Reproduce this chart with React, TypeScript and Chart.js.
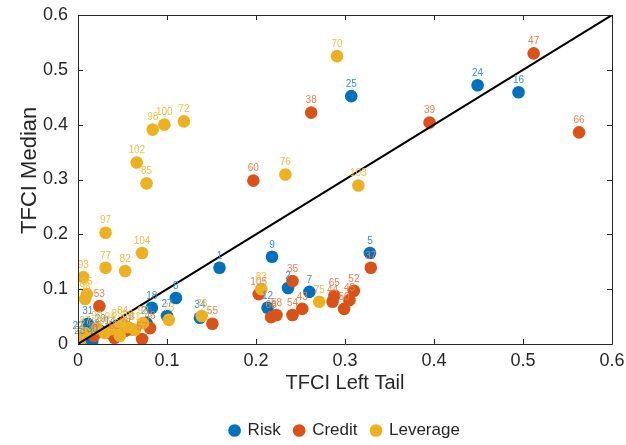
import React, { useEffect, useRef } from "react";
import { Chart, registerables } from "chart.js";

Chart.register(...registerables);

// Risk series
const riskLabels = ["1","2","3","5","7","8","9","12","14","16","18","22","23","24","25","26","27","29","30","31","34"];
const riskX = [0.159,0.236,0.060,0.328,0.260,0.110,0.218,0.213,0.036,0.495,0.083,0.000,0.002,0.449,0.307,0.077,0.100,0.025,0.016,0.011,0.137];
const riskY = [0.139,0.102,0.027,0.166,0.095,0.084,0.159,0.066,0.020,0.459,0.066,0.011,0.002,0.472,0.452,0.038,0.051,0.024,0.005,0.037,0.048];

// Credit series
const creditLabels = ["35","37","38","39","43","44","45","46","47","49","50","52","53","54","55","57","58","60","62","63","65","66","68","105"];
const creditX = [0.241,0.329,0.262,0.395,0.252,0.286,0.305,0.081,0.512,0.053,0.299,0.310,0.024,0.241,0.151,0.072,0.223,0.197,0.041,0.018,0.288,0.563,0.217,0.203];
const creditY = [0.115,0.139,0.422,0.404,0.064,0.077,0.080,0.029,0.530,0.024,0.064,0.097,0.069,0.053,0.037,0.009,0.053,0.298,0.011,0.015,0.088,0.386,0.049,0.091];

// Leverage series
const levLabels = ["70","72","73","75","76","77","78","81","82","83","84","85","86","87","88","89","90","91","92","93","94","95","96","97","98","99","100","102","103","104"];
const levX = [0.291,0.119,0.102,0.271,0.233,0.031,0.139,0.064,0.053,0.206,0.050,0.077,0.030,0.008,0.056,0.044,0.021,0.002,0.073,0.006,0.036,0.010,0.008,0.031,0.084,0.047,0.097,0.066,0.315,0.072];
const levY = [0.525,0.406,0.044,0.077,0.309,0.139,0.051,0.026,0.133,0.100,0.037,0.293,0.020,0.020,0.031,0.033,0.029,0.005,0.038,0.122,0.027,0.091,0.082,0.203,0.391,0.015,0.400,0.331,0.289,0.166];

const seriesNames = ["Risk", "Credit", "Leverage"];
const axisTicks = [0, 0.1, 0.2, 0.3, 0.4, 0.5, 0.6];
const diagX = [0, 0.6];
const diagY = [0, 0.6];

const COLORS = ["#0072BD", "#D95319", "#EDB120"];
const LABEL_COLORS = ["#3a8fd4", "#e8804f", "#f0be45"];
const FONT = "'Liberation Sans', Arial, sans-serif";
const AXIS_COLOR = "#262626";

const toPts = (xs: number[], ys: number[]) => xs.map((x, i) => ({ x, y: ys[i] }));

const pointLabelPlugin = {
  id: "pointLabels",
  afterDatasetsDraw(chart: any) {
    const ctx = chart.ctx;
    const labelSets = [riskLabels, creditLabels, levLabels];
    ctx.save();
    ctx.font = `10px ${FONT}`;
    ctx.textAlign = "center";
    ctx.textBaseline = "middle";
    for (let d = 0; d < 3; d++) {
      const meta = chart.getDatasetMeta(d);
      ctx.fillStyle = LABEL_COLORS[d];
      meta.data.forEach((el: any, i: number) => {
        ctx.fillText(labelSets[d][i], el.x, el.y - 12);
      });
    }
    ctx.restore();
  },
};

const boxPlugin = {
  id: "boxTicks",
  afterDraw(chart: any) {
    const { ctx, chartArea } = chart;
    const { left, right, top, bottom } = chartArea;
    const xs = chart.scales.x;
    const ys = chart.scales.y;
    ctx.save();
    ctx.strokeStyle = AXIS_COLOR;
    ctx.lineWidth = 1;
    ctx.beginPath();
    ctx.rect(Math.round(left) + 0.5, Math.round(top) + 0.5, Math.round(right - left), Math.round(bottom - top));
    const L = 5;
    axisTicks.forEach((v) => {
      const px = Math.round(xs.getPixelForValue(v)) + 0.5;
      ctx.moveTo(px, bottom);
      ctx.lineTo(px, bottom - L);
      ctx.moveTo(px, top);
      ctx.lineTo(px, top + L);
      const py = Math.round(ys.getPixelForValue(v)) + 0.5;
      ctx.moveTo(left, py);
      ctx.lineTo(left + L, py);
      ctx.moveTo(right, py);
      ctx.lineTo(right - L, py);
    });
    ctx.stroke();
    ctx.restore();
  },
};

export default function App() {
  const ref = useRef<HTMLCanvasElement | null>(null);
  useEffect(() => {
    document.body.style.margin = "0";
    if (!ref.current) return;
    const mk = (i: number, xs: number[], ys: number[], order: number) => ({
      label: seriesNames[i],
      data: toPts(xs, ys),
      backgroundColor: COLORS[i],
      borderColor: COLORS[i],
      pointRadius: 6.3,
      pointHoverRadius: 6.3,
      borderWidth: 0,
      order,
    });
    const chart = new Chart(ref.current, {
      type: "scatter",
      data: {
        datasets: [
          mk(0, riskX, riskY, 3),
          mk(1, creditX, creditY, 2),
          mk(2, levX, levY, 1),
          {
            type: "line",
            label: "diag",
            data: toPts(diagX, diagY),
            borderColor: "#000000",
            backgroundColor: "#000000",
            borderWidth: 2,
            pointRadius: 0,
            showLine: true,
            order: 0,
          } as any,
        ],
      },
      options: {
        animation: false,
        responsive: false,
        events: [],
        layout: { padding: { left: 0, right: 14, top: 15, bottom: -4 } },
        plugins: {
          tooltip: { enabled: false },
          legend: {
            position: "bottom",
            fullSize: false,
            labels: {
              filter: (item: any) => item.text !== "diag",
              sort: (a: any, b: any) => a.datasetIndex - b.datasetIndex,
              usePointStyle: true,
              pointStyle: "circle",
              boxWidth: 9,
              boxHeight: 9,
              padding: 14,
              color: AXIS_COLOR,
              font: { family: FONT, size: 17 },
            },
          },
        },
        scales: {
          x: {
            type: "linear",
            min: 0,
            max: 0.6,
            afterFit: (s: any) => { s.height = 64; s.paddingLeft = 0; s.paddingRight = 0; },
            grid: { display: false, drawTicks: false },
            border: { display: false },
            ticks: {
              stepSize: 0.1,
              padding: 6,
              color: AXIS_COLOR,
              font: { family: FONT, size: 18 },
              callback: (v: any) => String(Math.round(Number(v) * 10) / 10),
            },
            title: {
              display: true,
              text: "TFCI Left Tail",
              color: AXIS_COLOR,
              font: { family: FONT, size: 20 },
              padding: { top: 0, bottom: 13 },
            },
          },
          y: {
            type: "linear",
            min: 0,
            max: 0.6,
            afterFit: (s: any) => { s.width = 78; s.paddingTop = 0; s.paddingBottom = 0; },
            grid: { display: false, drawTicks: false },
            border: { display: false },
            ticks: {
              stepSize: 0.1,
              padding: 10,
              color: AXIS_COLOR,
              font: { family: FONT, size: 18 },
              callback: (v: any) => String(Math.round(Number(v) * 10) / 10),
            },
            title: {
              display: true,
              text: "   TFCI Median",
              color: AXIS_COLOR,
              font: { family: FONT, size: 22 },
              padding: { top: 17, bottom: 0 },
            },
          },
        },
      },
      plugins: [pointLabelPlugin, boxPlugin],
    } as any);
    return () => chart.destroy();
  }, []);
  return (
    <div style={{ width: 626, height: 445 }}>
      <canvas ref={ref} width={626} height={445} />
    </div>
  );
}
